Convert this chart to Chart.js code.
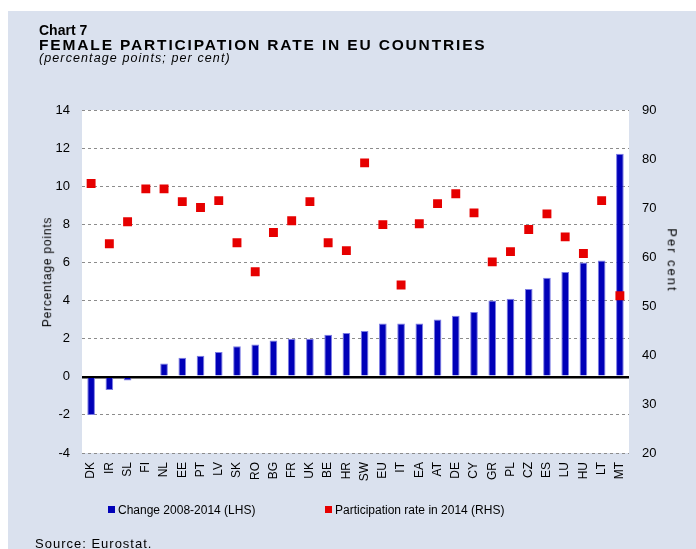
<!DOCTYPE html>
<html>
<head>
<meta charset="utf-8">
<script src="https://cdn.jsdelivr.net/npm/chart.js@4"></script>
<style>
  body { margin: 0; background: #fff; font-family: "Liberation Sans", Arial, sans-serif; }
  #wrap { position: relative; width: 696px; height: 549px; overflow: hidden; }
  #panel { position: absolute; left: 8px; top: 11px; width: 688px; height: 538px; background: #dae1ee; }
  canvas { position: absolute; left: 0; top: 0; }
  .txt { position: absolute; white-space: nowrap; color: #000; line-height: 1; }
  .sq { display: inline-block; width: 7px; height: 7px; margin-right: 3px; vertical-align: 1px; }
  .vt { position: absolute; white-space: nowrap; color: #000; line-height: 1; transform-origin: center center; }
</style>
</head>
<body>
<div id="wrap">
  <div id="panel"></div>
  <canvas id="chart" width="696" height="549"></canvas>
  <div class="txt" style="left:39px;top:22.5px;font-size:14px;font-weight:bold;">Chart 7</div>
  <div class="txt" style="left:39px;top:36.5px;font-size:15.5px;font-weight:bold;letter-spacing:1.85px;">FEMALE PARTICIPATION RATE IN EU COUNTRIES</div>
  <div class="txt" style="left:39px;top:52px;font-size:12.5px;font-style:italic;letter-spacing:1.1px;">(percentage points; per cent)</div>
  <div class="vt" id="ylTitle" style="font-size:12px;letter-spacing:0.8px;">Percentage points</div>
  <div class="vt" id="yrTitle" style="font-size:13px;letter-spacing:2px;">Per cent</div>
  <div class="txt" style="left:108px;top:504px;font-size:12px;"><span class="sq" style="background:#0000b8"></span>Change 2008-2014 (LHS)</div>
  <div class="txt" style="left:325px;top:504px;font-size:12px;"><span class="sq" style="background:#e60000"></span>Participation rate in 2014 (RHS)</div>
  <div class="txt" style="left:35px;top:537px;font-size:13px;letter-spacing:1px;">Source: Eurostat.</div>
</div>
<script>
// countries, sorted by change
const countries = ['DK', 'IR', 'SL', 'FI', 'NL', 'EE', 'PT', 'LV', 'SK', 'RO', 'BG', 'FR', 'UK', 'BE', 'HR',
    'SW', 'EU', 'IT', 'EA', 'AT', 'DE', 'CY', 'GR', 'PL', 'CZ', 'ES', 'LU', 'HU', 'LT', 'MT'];

// change 2008-2014, percentage points (LHS)
const change = [-2.0, -0.7, -0.2, 0.0, 0.7, 1.0, 1.1, 1.3, 1.6, 1.7, 1.9, 2.0, 2.0, 2.2, 2.3,
    2.4, 2.8, 2.8, 2.8, 3.0, 3.2, 3.4, 4.0, 4.1, 4.6, 5.2, 5.5, 6.0, 6.1, 11.7];

// participation rate in 2014, per cent (RHS)
const rate = [75.0, 62.7, 67.2, 73.9, 73.9, 71.3, 70.1, 71.5, 62.9, 57.0, 65.0, 67.4, 71.3, 62.9, 61.3,
    79.2, 66.6, 54.3, 66.8, 70.9, 72.9, 69.0, 59.0, 61.1, 65.6, 68.8, 64.1, 60.7, 71.5, 52.1];

const fontFamily = '"Liberation Sans", Arial, sans-serif';

// place a rotated html label so its centre sits at (cx, cy)
function placeVertical(id, cx, cy, deg) {
    const el = document.getElementById(id);
    const w = el.offsetWidth, h = el.offsetHeight;
    el.style.left = (cx - w / 2) + 'px';
    el.style.top = (cy - h / 2) + 'px';
    el.style.transform = 'rotate(' + deg + 'deg)';
}
placeVertical('ylTitle', 47, 272, -90);
placeVertical('yrTitle', 672, 260, 90);

// white plot background
const plotBg = {
    id: 'plotBg',
    beforeDraw(chart) {
        const a = chart.chartArea;
        const c = chart.ctx;
        c.save();
        c.fillStyle = '#ffffff';
        c.fillRect(a.left, a.top, a.right - a.left, a.bottom - a.top);
        c.restore();
    }
};

new Chart(document.getElementById('chart'), {
    data: {
        labels: countries,
        datasets: [{
            type: 'line',
            label: 'Participation rate in 2014 (RHS)',
            data: rate,
            yAxisID: 'y1',
            showLine: false,
            pointStyle: 'rect',
            pointRadius: 6.3,
            pointHoverRadius: 6.3,
            pointBackgroundColor: '#e60000',
            pointBorderWidth: 0,
            order: 0
        }, {
            type: 'bar',
            label: 'Change 2008-2014 (LHS)',
            data: change,
            yAxisID: 'y',
            backgroundColor: '#0000b8',
            borderColor: 'rgba(110,110,225,0.9)',
            borderWidth: 1,
            barPercentage: 0.42,
            categoryPercentage: 1,
            order: 1
        }]
    },
    options: {
        responsive: false,
        animation: false,
        layout: { padding: { top: 110, left: 0, right: 0, bottom: 0 } },
        plugins: {
            legend: { display: false },
            tooltip: { enabled: false }
        },
        scales: {
            x: {
                grid: { display: false },
                border: { display: false },
                afterFit: s => { s.height = 96; },
                ticks: {
                    minRotation: 90,
                    maxRotation: 90,
                    autoSkip: false,
                    padding: 1,
                    color: '#000',
                    font: { family: fontFamily, size: 12 }
                }
            },
            y: {
                position: 'left',
                min: -4,
                max: 14,
                afterFit: s => { s.width = 82; },
                grid: {
                    drawTicks: false,
                    color: c => c.tick && c.tick.value === 0 ? '#000' : '#8c8c8c',
                    lineWidth: c => c.tick && c.tick.value === 0 ? 2.5 : 1
                },
                border: {
                    display: false,
                    dash: c => c.tick && c.tick.value === 0 ? [] : [3, 3]
                },
                ticks: {
                    stepSize: 2,
                    padding: 12,
                    color: '#000',
                    font: { family: fontFamily, size: 13 }
                }
            },
            y1: {
                position: 'right',
                min: 20,
                max: 90,
                afterFit: s => { s.width = 67; },
                grid: { drawOnChartArea: false, drawTicks: false },
                border: { display: false },
                ticks: {
                    stepSize: 10,
                    padding: 13,
                    color: '#000',
                    font: { family: fontFamily, size: 13 }
                }
            }
        }
    },
    plugins: [plotBg]
});
</script>
</body>
</html>
